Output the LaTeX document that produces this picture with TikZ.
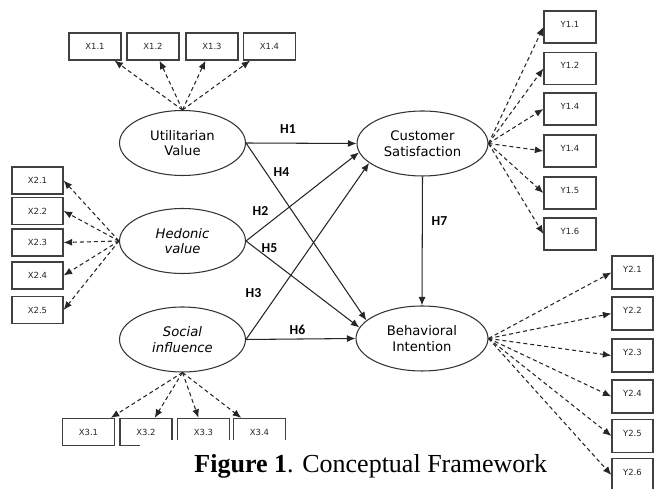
\documentclass[tikz,border=0pt]{standalone}
\usepackage{fontspec}
\usetikzlibrary{shapes.geometric,arrows.meta}
\newfontfamily\latentfont{DejaVu Sans}
\newfontfamily\hypfont{Carlito}
\newfontfamily\captionfont{Liberation Serif}

\begin{document}
\begin{tikzpicture}[x=0.02cm, y=-0.02cm,
  latent/.style={ellipse, draw=black!80, line width=0.6pt, minimum width=2.52cm, minimum height=1.3cm, inner sep=0pt, align=center, font=\latentfont\fontsize{7.5}{9}\selectfont},
  latentit/.style={latent, font=\latentfont\itshape\fontsize{7.5}{9}\selectfont},
  item/.style={rectangle, draw=black!75, line width=0.7pt, minimum width=1.04cm, minimum height=0.54cm, inner sep=0pt, text=black!85, font=\latentfont\fontsize{4.8}{5}\selectfont},
  itemy/.style={item, minimum height=0.64cm, text depth=3.2pt},
  hyp/.style={inner sep=0pt, font=\hypfont\bfseries\fontsize{7.8}{9}\selectfont},
  link/.style={-{Latex[length=1.7mm,width=1.4mm]}, draw=black!85, line width=0.6pt},
  loading/.style={link, dash pattern=on 2.3pt off 1.7pt}]
  \useasboundingbox (0,0) rectangle (654,489);

  % latent variables
  \node (util) [latent] at (182.5, 143) {Utilitarian\\Value};
  \node (hed) [latentit] at (182.5, 241) {Hedonic\\value};
  \node (soc) [latentit] at (182.5, 339.5) {Social\\influence};
  \node (sat) [latent, minimum width=2.62cm] at (422.5, 143.5) {Customer\\Satisfaction};
  \node (beh) [latent, minimum width=2.64cm] at (422, 338.5) {Behavioral\\Intention};

  % indicators
  \node (x11) [item] at (95, 46.5) {X1.1};
  \node (x12) [item] at (153, 46.5) {X1.2};
  \node (x13) [item] at (212, 46.5) {X1.3};
  \node (x14) [item] at (269.5, 46.5) {X1.4};

  \node (x21) [item, minimum width=1.02cm] at (37.5, 180.5) {X2.1};
  \node (x22) [item, minimum width=1.02cm] at (37.5, 211) {X2.2};
  \node (x23) [item, minimum width=1.02cm] at (37.5, 242.5) {X2.3};
  \node (x24) [item, minimum width=1.02cm] at (37.5, 275.5) {X2.4};
  \node (x25) [item, minimum width=1.02cm] at (37.5, 310) {X2.5};

  \node (x31) [item] at (88.5, 432) {X3.1};
  \node (x32) [item] at (146, 432) {X3.2};
  \node (x33) [item] at (203.5, 432) {X3.3};
  \node (x34) [item] at (259.5, 432) {X3.4};

  \node (y11) [itemy] at (570, 27) {Y1.1};
  \node (y12) [itemy] at (570, 68.5) {Y1.2};
  \node (y13) [itemy] at (570, 109) {Y1.4};
  \node (y14) [itemy] at (570, 151) {Y1.4};
  \node (y15) [itemy] at (570, 193) {Y1.5};
  \node (y16) [itemy] at (570, 234) {Y1.6};

  \node (y21) [itemy, minimum width=0.82cm, minimum height=0.66cm] at (632.5, 272.5) {Y2.1};
  \node (y22) [itemy, minimum width=0.82cm, minimum height=0.66cm] at (632.5, 313.5) {Y2.2};
  \node (y23) [itemy, minimum width=0.82cm, minimum height=0.66cm] at (632.5, 355.5) {Y2.3};
  \node (y24) [itemy, minimum width=0.82cm, minimum height=0.66cm] at (632.5, 396.5) {Y2.4};
  \node (y25) [itemy, minimum width=0.82cm, minimum height=0.66cm] at (632.5, 436) {Y2.5};
  \node (y26) [itemy, minimum width=0.82cm, minimum height=0.66cm] at (632.5, 475) {Y2.6};

  \node (caption) [fill=white, anchor=north west, minimum width=9.22cm, minimum height=1.04cm, inner sep=0pt, font=\captionfont\fontsize{14.8}{16}\selectfont] at (140, 440) {\textbf{Figure 1}. Conceptual Framework};

  % hypotheses
  \draw[link] (util.east) -- (sat.west);
  \draw[link] (hed.east) -- (sat.188);
  \draw[link] (soc.east) -- (sat.200);
  \draw[link] (util.east) -- (beh.162);
  \draw[link] (hed.east) -- (beh.170);
  \draw[link] (soc.east) -- (beh.west);
  \draw[link] (sat.south) -- (beh.north);

  \node (h1) [hyp] at (288, 129) {H1};
  \node (h2) [hyp] at (260.5, 211) {H2};
  \node (h3) [hyp] at (253.5, 293.5) {H3};
  \node (h4) [hyp] at (281.5, 172) {H4};
  \node (h5) [hyp] at (269.5, 248) {H5};
  \node (h6) [hyp] at (297.5, 329.5) {H6};
  \node (h7) [hyp] at (439.5, 221) {H7};

  % loadings
  \draw[loading] (util.north) -- (x11);
  \draw[loading] (util.north) -- (x12);
  \draw[loading] (util.north) -- (x13);
  \draw[loading] (util.north) -- (x14);

  \draw[loading] (hed.west) -- (x21.east);
  \draw[loading] (hed.west) -- (x22.east);
  \draw[loading] (hed.west) -- (x23.east);
  \draw[loading] (hed.west) -- (x24.east);
  \draw[loading] (hed.west) -- (x25.east);

  \draw[loading] (soc.south) -- (x31);
  \draw[loading] (soc.south) -- (x32);
  \draw[loading] (soc.south) -- (x33);
  \draw[loading] (soc.south) -- (x34);

  \draw[loading] (sat.east) -- (y11.west);
  \draw[loading] (sat.east) -- (y12.west);
  \draw[loading] (sat.east) -- (y13.west);
  \draw[loading] (sat.east) -- (y14.west);
  \draw[loading] (sat.east) -- (y15.west);
  \draw[loading] (sat.east) -- (y16.west);

  \draw[loading] (beh.east) -- (y21.west);
  \draw[loading] (beh.east) -- (y22.west);
  \draw[loading] (beh.east) -- (y23.west);
  \draw[loading] (beh.east) -- (y24.west);
  \draw[loading] (beh.east) -- (y25.west);
  \draw[loading] (beh.east) -- (y26.west);
\end{tikzpicture}
\end{document}
